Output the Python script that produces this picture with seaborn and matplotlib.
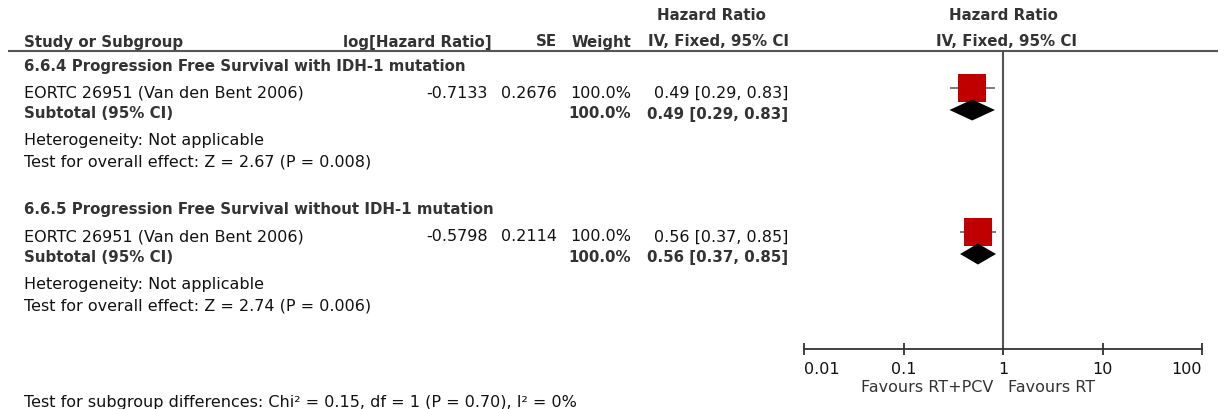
import matplotlib
matplotlib.use("Agg")
import matplotlib.pyplot as plt
import seaborn as sns
import pandas as pd
import numpy as np

# ---------------- data ----------------
group_titles = ["6.6.4 Progression Free Survival with IDH-1 mutation",
                "6.6.5 Progression Free Survival without IDH-1 mutation"]
study_names = ["EORTC 26951 (Van den Bent 2006)", "EORTC 26951 (Van den Bent 2006)"]
log_hr = ["-0.7133", "-0.5798"]
se = ["0.2676", "0.2114"]
weights = ["100.0%", "100.0%"]
hr = [0.49, 0.56]
ci_low = [0.29, 0.37]
ci_high = [0.83, 0.85]
sub_weights = ["100.0%", "100.0%"]
sub_hr = [0.49, 0.56]
sub_low = [0.29, 0.37]
sub_high = [0.83, 0.85]
heterogeneity = ["Heterogeneity: Not applicable", "Heterogeneity: Not applicable"]
overall = ["Test for overall effect: Z = 2.67 (P = 0.008)",
           "Test for overall effect: Z = 2.74 (P = 0.006)"]
subgroup_test = "Test for subgroup differences: Chi\u00b2 = 0.15, df = 1 (P = 0.70), I\u00b2 = 0%"
tick_values = [0.01, 0.1, 1, 10, 100]
tick_labels = ["0.01", "0.1", "1", "10", "100"]
favours_left = "Favours RT+PCV"
favours_right = "Favours RT"

# ---------------- layout (pixel rows) ----------------
W, H = 1224, 410
group_y = [66, 210]
study_dy, sub_dy, het_dy, test_dy = 27, 48, 75, 96
mark_shift = -4

sns.set_theme(style="white")
plt.rcParams["font.family"] = ["DejaVu Sans"]
REG = 11.5
BOLD = 10.8
txt_col = "#111111"
bold_col = "#333333"

fig = plt.figure(figsize=(W / 100, H / 100), dpi=100)
fig.patch.set_facecolor("white")

# text layer in pixel coordinates
tax = fig.add_axes([0, 0, 1, 1])
tax.set_xlim(0, W)
tax.set_ylim(H, 0)
tax.axis("off")

def t(x, y, s, bold=False, ha="left", color=None):
    tax.text(x, y, s, ha=ha, va="center",
             fontsize=BOLD if bold else REG,
             fontweight="bold" if bold else "normal",
             color=color or (bold_col if bold else txt_col))

# headers
t(711, 15, "Hazard Ratio", bold=True, ha="center")
t(1003, 15, "Hazard Ratio", bold=True, ha="center")
t(24, 42, "Study or Subgroup", bold=True)
t(492, 42, "log[Hazard Ratio]", bold=True, ha="right")
t(557, 42, "SE", bold=True, ha="right")
t(631, 42, "Weight", bold=True, ha="right")
t(789, 42, "IV, Fixed, 95% CI", bold=True, ha="right")
t(1007, 42, "IV, Fixed, 95% CI", bold=True, ha="center")
tax.plot([8, 1218], [52, 52], color="#555555", lw=1.5, solid_capstyle="butt")

for i, gy in enumerate(group_y):
    t(24, gy, group_titles[i], bold=True)
    sy = gy + study_dy
    t(24, sy, study_names[i])
    t(488, sy, log_hr[i], ha="right")
    t(557, sy, se[i], ha="right")
    t(631, sy, weights[i], ha="right")
    t(788, sy, f"{hr[i]:.2f} [{ci_low[i]:.2f}, {ci_high[i]:.2f}]", ha="right")
    by = gy + sub_dy
    t(24, by, "Subtotal (95% CI)", bold=True)
    t(631, by, sub_weights[i], bold=True, ha="right")
    t(788, by, f"{sub_hr[i]:.2f} [{sub_low[i]:.2f}, {sub_high[i]:.2f}]", bold=True, ha="right")
    t(24, gy + het_dy, heterogeneity[i])
    t(24, gy + test_dy, overall[i])

t(24, 403, subgroup_test)
t(993, 388, favours_left, ha="right", color="#333333")
t(1008, 388, favours_right, ha="left", color="#333333")

# forest plot axes
x0, x1 = 804, 1202
ytop, ybot = 52, 350
ax = fig.add_axes([x0 / W, (H - ybot) / H, (x1 - x0) / W, (ybot - ytop) / H])
ax.set_facecolor("none")
ax.set_xscale("log")
ax.set_xlim(tick_values[0], tick_values[-1])
ax.set_ylim(ybot, ytop)
for side in ["top", "right", "left"]:
    ax.spines[side].set_visible(False)
ax.spines["bottom"].set_color("#333333")
ax.spines["bottom"].set_linewidth(1.3)
ax.set_yticks([])
ax.set_xticks(tick_values)
ax.set_xticklabels(tick_labels)
ax.minorticks_off()
ax.tick_params(axis="x", direction="inout", length=8, width=1.3, color="#333333",
               labelsize=REG, labelcolor="#111111", pad=4.5, bottom=True)
labs = ax.get_xticklabels()
labs[0].set_ha("left")
labs[-1].set_ha("right")

ax.axvline(1, color="#555555", lw=1.5, zorder=1)

study_rows = [g + study_dy + mark_shift for g in group_y]
sub_rows = [g + sub_dy + mark_shift + 1 for g in group_y]

ax.hlines(study_rows, ci_low, ci_high, color="#666666", lw=1.2, zorder=2)
df = pd.DataFrame({"hr": hr, "row": study_rows})
sns.scatterplot(data=df, x="hr", y="row", marker="s", s=390, color="#C00000",
                linewidth=0, ax=ax, zorder=3, legend=False)
for i in range(len(sub_hr)):
    yy = sub_rows[i]
    ax.fill([sub_low[i], sub_hr[i], sub_high[i], sub_hr[i]],
            [yy, yy - 10.5, yy, yy + 10.5], color="black", lw=0, zorder=3)
ax.set_xlabel("")
ax.set_ylabel("")

fig.savefig("out.png", dpi=100, facecolor="white")
